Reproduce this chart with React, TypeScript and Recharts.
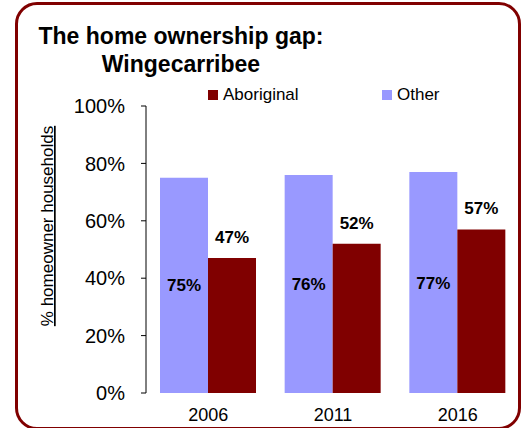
import React from 'react';
import { BarChart, Bar, XAxis, YAxis, LabelList, Legend } from 'recharts';

const years = ['2006', '2011', '2016'];
const otherPct = [75, 76, 77];
const aboriginalPct = [47, 52, 57];
const yTicks = [0, 20, 40, 60, 80, 100];
const legendOrder = ['Aboriginal', 'Other'];

const data = years.map((year, i) => ({
  year,
  other: otherPct[i],
  aboriginal: aboriginalPct[i],
}));

const FONT = '"Liberation Sans", Arial, Helvetica, sans-serif';
const MAROON = '#800000';
const LILAC = '#9999FF';

const pct = (v: any) => `${v}%`;

const YLabel = () => (
  <text
    transform="translate(53, 226) rotate(-90)"
    textAnchor="middle"
    fontFamily={FONT}
    fontSize={17}
    fill="#000"
    style={{ textDecoration: 'underline' }}
  >
    % homeowner households
  </text>
);

const LegendBox = ({ payload }: any) => {
  const items = legendOrder
    .map((name) => (payload || []).find((p: any) => p.value === name))
    .filter(Boolean);
  return (
    <div style={{ display: 'flex', fontFamily: FONT, fontSize: 17, lineHeight: '20px' }}>
      {items.map((p: any, i: number) => (
        <div
          key={p.value}
          style={{ display: 'flex', alignItems: 'center', width: i === 0 ? 174 : 'auto' }}
        >
          <span style={{ width: 10, height: 10, background: p.color, marginRight: 5 }} />
          <span>{p.value}</span>
        </div>
      ))}
    </div>
  );
};

export default function App() {
  return (
    <div
      style={{
        position: 'absolute',
        left: 0,
        top: 0,
        width: 528,
        height: 428,
        overflow: 'hidden',
        background: '#fff',
        fontFamily: FONT,
      }}
    >
      <div
        style={{
          position: 'absolute',
          left: 15,
          top: 2,
          width: 506,
          height: 428,
          border: `3px solid ${MAROON}`,
          borderRadius: 22,
          boxSizing: 'border-box',
        }}
      />
      <div
        style={{
          position: 'absolute',
          left: 0,
          top: 22,
          width: 362,
          textAlign: 'center',
          fontSize: 23,
          fontWeight: 'bold',
          lineHeight: '28px',
        }}
      >
        The home ownership gap:
        <br />
        Wingecarribee
      </div>
      <div style={{ position: 'absolute', left: 0, top: 0 }}>
        <BarChart
          width={528}
          height={428}
          data={data}
          margin={{ top: 106, right: 8, bottom: 0, left: 0 }}
          barGap={0}
          barCategoryGap={14}
        >
          <XAxis
            dataKey="year"
            axisLine={false}
            tickLine={false}
            tickSize={0}
            tickMargin={15}
            height={35}
            tick={{ fontSize: 18, fill: '#000', fontFamily: FONT }}
          />
          <YAxis
            domain={[0, 100]}
            ticks={yTicks}
            interval={0}
            tickFormatter={pct}
            width={146}
            axisLine={{ stroke: '#000' }}
            tickLine={{ stroke: '#000' }}
            tickSize={5}
            tickMargin={16}
            tick={{ fontSize: 20, fill: '#000', fontFamily: FONT }}
            label={{ content: <YLabel /> }}
          />
          <Legend
            layout="horizontal"
            verticalAlign="middle"
            align="center"
            content={<LegendBox />}
            wrapperStyle={{ position: 'absolute', top: 85, left: 208, width: 280 }}
          />
          <Bar dataKey="other" name="Other" fill={LILAC} isAnimationActive={false}>
            <LabelList
              dataKey="other"
              position="center"
              formatter={pct}
              fill="#000"
              style={{ fontSize: 17, fontWeight: 'bold', fontFamily: FONT, fill: '#000' }}
            />
          </Bar>
          <Bar dataKey="aboriginal" name="Aboriginal" fill={MAROON} isAnimationActive={false}>
            <LabelList
              dataKey="aboriginal"
              position="top"
              offset={15}
              formatter={pct}
              fill="#000"
              style={{ fontSize: 17, fontWeight: 'bold', fontFamily: FONT, fill: '#000' }}
            />
          </Bar>
        </BarChart>
      </div>
    </div>
  );
}
